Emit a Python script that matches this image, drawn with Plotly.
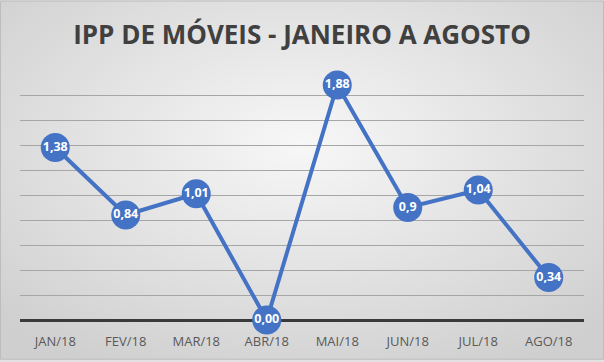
import plotly.graph_objects as go
import base64

months = ["JAN/18", "FEV/18", "MAR/18", "ABR/18", "MAI/18", "JUN/18", "JUL/18", "AGO/18"]
values = [1.38, 0.84, 1.01, 0.00, 1.88, 0.90, 1.04, 0.34]
labels = ["1,38", "0,84", "1,01", "0,00", "1,88", "0,9", "1,04", "0,34"]
title = "IPP DE MÓVEIS - JANEIRO A AGOSTO"

W, H = 604, 362
ML, MR, MT, MB = 20, 20, 70, 40
PW, PH = W - ML - MR, H - MT - MB

svg = f'''<svg xmlns="http://www.w3.org/2000/svg" width="{W}" height="{H}" preserveAspectRatio="none">
<defs><radialGradient id="g" cx="50%" cy="40%" r="70%" fx="50%" fy="40%">
<stop offset="0%" stop-color="#f7f7f7"/><stop offset="100%" stop-color="#cfcfcf"/></radialGradient></defs>
<rect width="{W}" height="{H}" fill="url(#g)"/></svg>'''
src = "data:image/svg+xml;base64," + base64.b64encode(svg.encode()).decode()

fig = go.Figure()
fig.add_trace(go.Scatter(
    x=months, y=values, mode="lines+markers+text",
    line=dict(color="#4472C4", width=4),
    marker=dict(size=29, color="#4472C4"),
    text=["<b>" + t + "</b>" for t in labels], textposition="middle center",
    textfont=dict(color="white", size=12.5, family="Open Sans"),
    cliponaxis=False, hoverinfo="skip",
))

fig.update_layout(
    width=W, height=H,
    margin=dict(l=ML, r=MR, t=MT, b=MB),
    paper_bgcolor="#e2e2e2", plot_bgcolor="rgba(0,0,0,0)",
    showlegend=False,
    title=dict(text="<b>" + title + "</b>", x=0.5, xanchor="center", y=1 - 35 / H, yanchor="middle",
               font=dict(size=26, color="#404040", family="Open Sans")),
    xaxis=dict(range=[-0.5, 7.5], showgrid=False, showline=False, zeroline=False,
               ticks="outside", ticklen=9, tickcolor="rgba(0,0,0,0)",
               tickfont=dict(size=13, color="#595959", family="Open Sans"), fixedrange=True),
    yaxis=dict(range=[0, 2.0], dtick=0.2, showticklabels=False, showgrid=True,
               gridcolor="#a6a6a6", gridwidth=1, zeroline=True, zerolinecolor="#3a3a3a",
               zerolinewidth=3, showline=False, fixedrange=True),
    images=[dict(source=src, xref="paper", yref="paper", x=-ML / PW, y=1 + MT / PH,
                 sizex=W / PW, sizey=H / PH, sizing="stretch", xanchor="left", yanchor="top",
                 layer="below")],
    shapes=[dict(type="rect", xref="paper", yref="paper", x0=-(ML - 0.5) / PW, x1=1 + (MR - 0.5) / PW,
                 y0=-(MB - 0.5) / PH, y1=1 + (MT - 0.5) / PH, line=dict(color="#bdbdbd", width=1))],
)
fig.write_html("out.html", config={"displayModeBar": False},
               post_script="document.body.style.margin='0';")
